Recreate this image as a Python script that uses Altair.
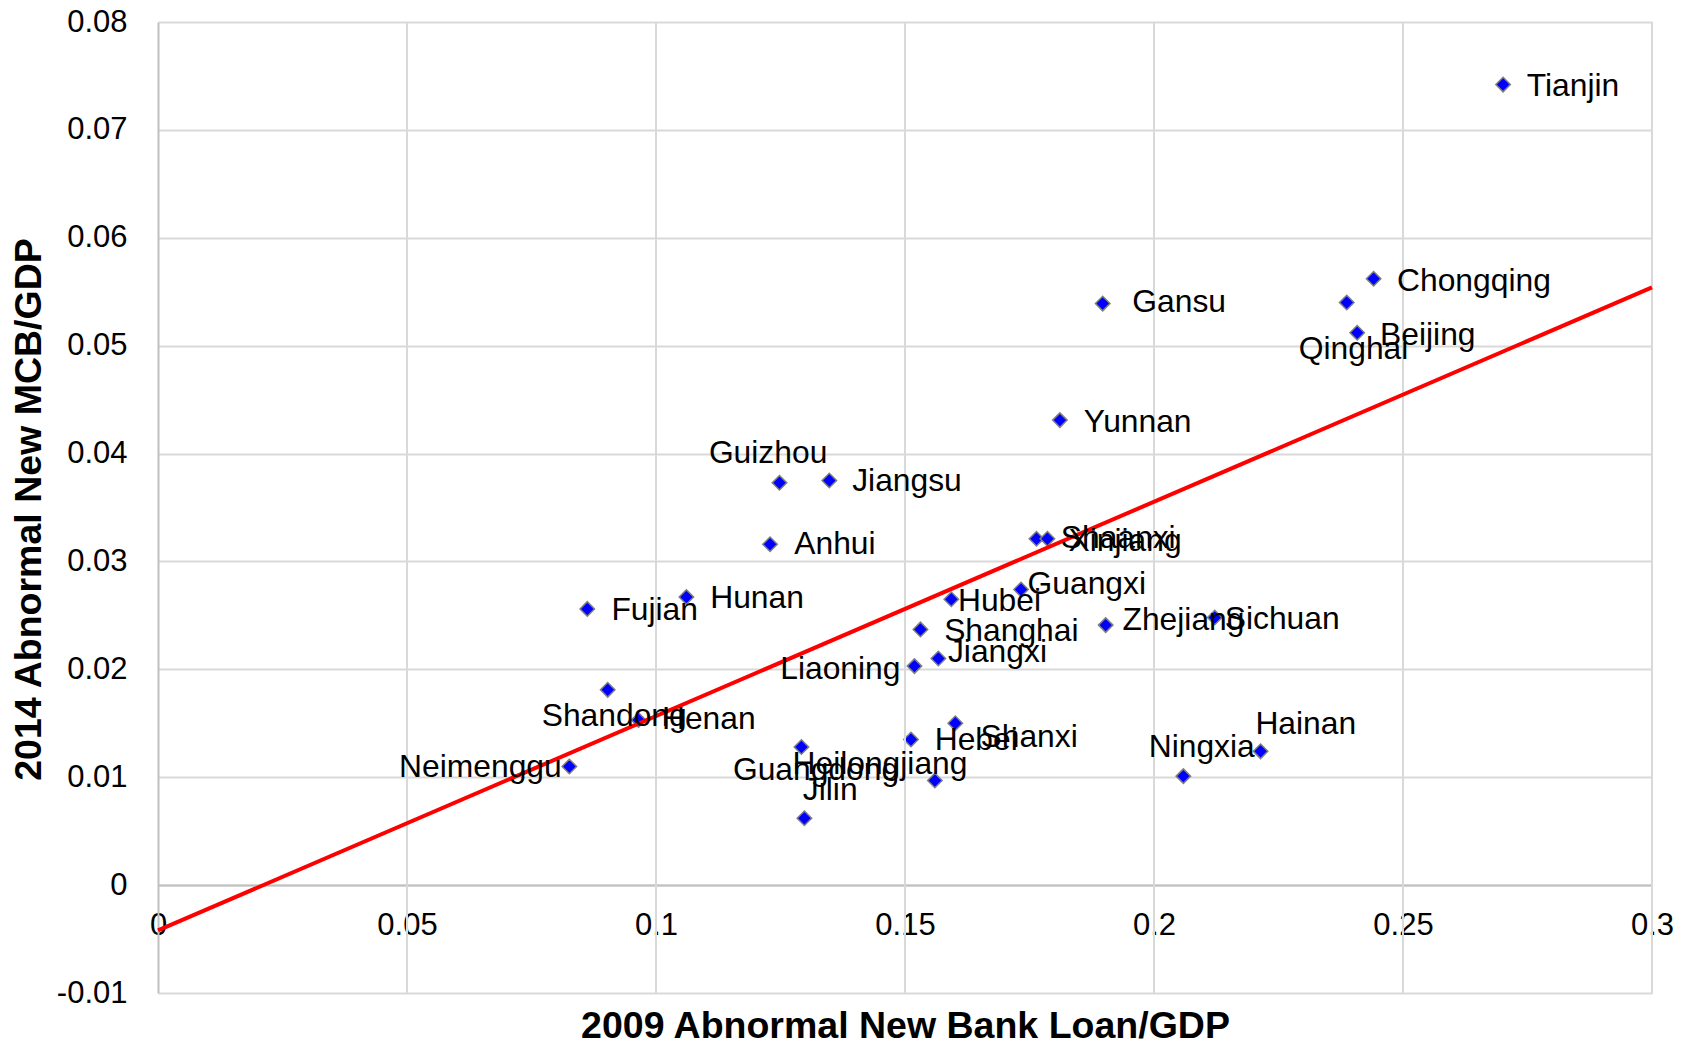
import altair as alt
import pandas as pd

# ---------------- data ----------------
provinces = ["Tianjin", "Chongqing", "Qinghai", "Beijing", "Gansu", "Yunnan",
             "Guizhou", "Jiangsu", "Anhui", "Shaanxi", "Xinjiang", "Guangxi",
             "Hubei", "Zhejiang", "Sichuan", "Shanghai", "Jiangxi", "Liaoning",
             "Fujian", "Hunan", "Shandong", "Henan", "Neimenggu", "Guangdong",
             "Heilongjiang", "Jilin", "Hebei", "Shanxi", "Ningxia", "Hainan"]
loan_2009 = [0.2701, 0.2441, 0.2387, 0.2408, 0.1897, 0.1811,
             0.1248, 0.1348, 0.1229, 0.1764, 0.1786, 0.1733,
             0.1593, 0.1903, 0.2122, 0.1531, 0.1567, 0.1519,
             0.0862, 0.1061, 0.0903, 0.0965, 0.0826, 0.1292,
             0.1560, 0.1298, 0.1512, 0.1601, 0.2059, 0.2214]
mcb_2014 = [0.0742, 0.0562, 0.0540, 0.0512, 0.0539, 0.0431,
            0.0373, 0.0375, 0.0316, 0.0321, 0.0321, 0.0274,
            0.0265, 0.0241, 0.0248, 0.0237, 0.0210, 0.0203,
            0.0256, 0.0267, 0.0181, 0.0153, 0.0110, 0.0128,
            0.0097, 0.0062, 0.0135, 0.0150, 0.0101, 0.0124]

# linear trend line end points
trend_x = [0.0, 0.3]
trend_y = [-0.0042, 0.0554]

x_ticks = [0, 0.05, 0.1, 0.15, 0.2, 0.25, 0.3]
y_ticks = [-0.01, 0, 0.01, 0.02, 0.03, 0.04, 0.05, 0.06, 0.07, 0.08]

# ---------------- label placement (layout / style, pixels) ----------------
label_align = ["left", "left", "center", "left", "left", "left",
               "center", "left", "left", "left", "left", "left",
               "left", "left", "left", "left", "left", "right",
               "left", "left", "center", "left", "right", "center",
               "center", "center", "left", "left", "center", "center"]
label_dx = [23.7, 23.4, 6.8, 22.9, 29.6, 23.8,
            -11.4, 22.9, 24.2, 24.3, 21.0, 6.5,
            6.6, 16.8, 10.0, 23.7, 9.6, -14.0,
            24.1, 23.8, 6.5, 23.4, -7.6, 14.6,
            -54.9, 25.8, 23.7, 25.2, 18.3, 45.2]
label_dy = [11.5, 12.2, 56.5, 12.7, 8.4, 12.3,
            -20.0, 10.4, 10.0, 9.2, 12.0, 5.0,
            12.0, 5.0, 11.5, 11.5, 3.5, 12.6,
            10.7, 11.0, 36.5, 9.0, 11.0, 32.6,
            -6.0, -18.0, 10.7, 24.0, -19.0, -17.2]

W, H = 1494, 971
X_DOMAIN = [0, 0.3]
Y_DOMAIN = [-0.01, 0.08]
FONT = "Liberation Sans"

df = pd.DataFrame({"name": provinces, "x": loan_2009, "y": mcb_2014,
                   "align": label_align, "dx": label_dx, "dy": label_dy})
df["lx"] = df["x"] + df["dx"] * (X_DOMAIN[1] - X_DOMAIN[0]) / W
df["ly"] = df["y"] - df["dy"] * (Y_DOMAIN[1] - Y_DOMAIN[0]) / H

trend_df = pd.DataFrame({"x": trend_x, "y": trend_y})
grid_df = pd.DataFrame({"x": x_ticks[1:]})

xscale = alt.Scale(domain=X_DOMAIN, nice=False, zero=False)
yscale = alt.Scale(domain=Y_DOMAIN, nice=False, zero=False)

zero_offset = -(0 - Y_DOMAIN[0]) / (Y_DOMAIN[1] - Y_DOMAIN[0]) * H

x_axis = alt.Axis(
    values=x_ticks, labelExpr="'' + datum.value", offset=zero_offset,
    grid=False, ticks=False, domainColor="#bfbfbf", domainWidth=2,
    labelFont=FONT, labelFontSize=31, labelColor="black", labelPadding=25,
    labelFlush=False, labelOverlap=False,
    title="2009 Abnormal New Bank Loan/GDP", titleFont=FONT, titleFontSize=37.5,
    titleFontWeight="bold", titleColor="black", titleBaseline="alphabetic",
    titleY=152,
)
y_axis = alt.Axis(
    values=y_ticks, labelExpr="'' + datum.value",
    grid=True, gridColor="#d9d9d9", gridWidth=2,
    ticks=False, domainColor="#bfbfbf", domainWidth=2,
    labelFont=FONT, labelFontSize=31, labelColor="black", labelPadding=31,
    labelFlush=False, labelOverlap=False,
    title="2014 Abnormal New MCB/GDP", titleFont=FONT, titleFontSize=37.5,
    titleFontWeight="bold", titleColor="black", titleAngle=270,
    titleBaseline="alphabetic", titleAlign="center", titleX=-118, titleY=487,
)

# axes are defined once (on the points layer); the other layers add none
grid_rules = alt.Chart(grid_df).mark_rule(color="#d9d9d9", strokeWidth=2).encode(
    x=alt.X("x:Q", scale=xscale),
    y=alt.value(0), y2=alt.value(H),
)

trend = alt.Chart(trend_df).mark_line(color="#ff0000", strokeWidth=4).encode(
    x=alt.X("x:Q", scale=xscale),
    y=alt.Y("y:Q", scale=yscale),
)

points = alt.Chart(df).mark_point(
    shape="diamond", filled=True, fill="#0000ff", stroke="#808080",
    strokeWidth=1.5, size=210, opacity=1,
).encode(
    x=alt.X("x:Q", scale=xscale, axis=x_axis),
    y=alt.Y("y:Q", scale=yscale, axis=y_axis),
)

label_layers = []
for a in ["left", "right", "center"]:
    label_layers.append(
        alt.Chart(df).transform_filter(alt.datum.align == a).mark_text(
            align=a, baseline="alphabetic", font=FONT, fontSize=31.8, color="black",
        ).encode(
            x=alt.X("lx:Q", scale=xscale),
            y=alt.Y("ly:Q", scale=yscale),
            text="name:N",
        )
    )

chart = alt.layer(points, grid_rules, trend, *label_layers).properties(
    width=W, height=H,
    autosize=alt.AutoSizeParams(type="none"),
    padding={"left": 150, "top": 14, "right": 26, "bottom": 48},
    background="white",
).configure_view(stroke=None)

chart.save("out.html", embed_options={"renderer": "svg", "actions": False})
